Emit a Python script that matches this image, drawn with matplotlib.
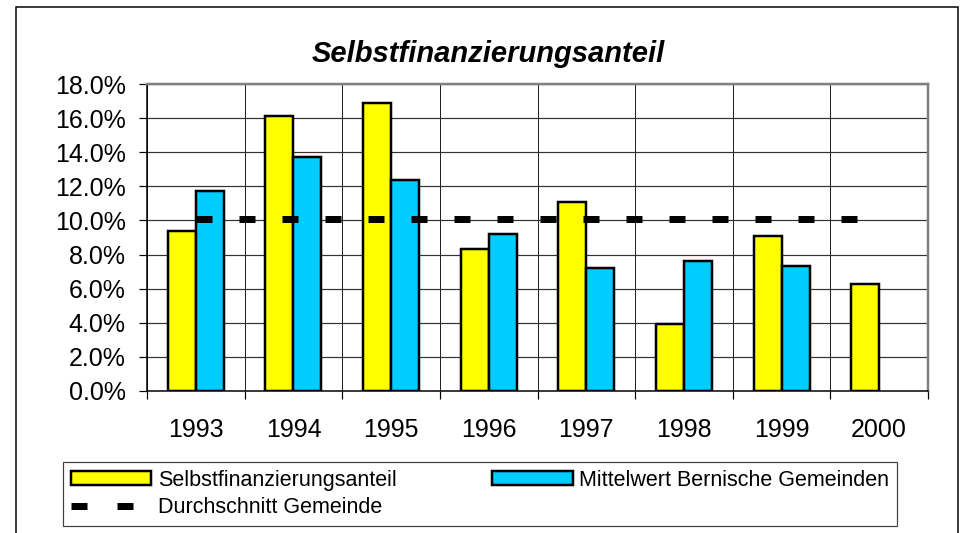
import numpy as np
import matplotlib
matplotlib.use("Agg")
import matplotlib.pyplot as plt
from matplotlib.patches import Rectangle, Patch
from matplotlib.lines import Line2D
from matplotlib.ticker import FuncFormatter, MultipleLocator

# data (percent)
years = ["1993", "1994", "1995", "1996", "1997", "1998", "1999", "2000"]
selbst = [9.4, 16.1, 16.9, 8.3, 11.1, 3.9, 9.1, 6.3]
mittelwert = [11.7, 13.7, 12.4, 9.2, 7.2, 7.6, 7.3, np.nan]
durchschnitt = [10.1, 10.1, 10.1, 10.1, 10.1, 10.1, 10.1, 10.1]

W, H = 962, 533
DPI = 100
px = 72.0 / DPI  # points per pixel

plt.rcParams['font.family'] = ['Liberation Sans', 'DejaVu Sans']
plt.rcParams['lines.scale_dashes'] = False

fig = plt.figure(figsize=(W / DPI, H / DPI), dpi=DPI)
fig.patch.set_facecolor("white")

# outer chart frame (cut off at the bottom like the reference)
frame = Rectangle((16 / W, -0.05), (958 - 16) / W, (H - 7) / H + 0.05,
                  transform=fig.transFigure, fill=False,
                  edgecolor="black", linewidth=1.5 * px)
fig.patches.append(frame)

ax = fig.add_axes([147 / W, 1 - 391 / H, 781 / W, 307 / H])

x = np.arange(len(years))
bw = 0.287
ax.bar(x - bw / 2, selbst, width=bw, color="#FFFF00", edgecolor="black",
       linewidth=2.5 * px, zorder=3, label="Selbstfinanzierungsanteil")
ax.bar(x + bw / 2, mittelwert, width=bw, color="#00CCFF", edgecolor="black",
       linewidth=2.5 * px, zorder=3, label="Mittelwert Bernische Gemeinden")
ax.plot(x, durchschnitt, color="black", linewidth=7 * px,
        dashes=(16 * px, 27 * px), dash_capstyle="butt", zorder=4,
        label="Durchschnitt Gemeinde")

ax.set_xlim(-0.5, len(years) - 0.5)
ax.set_ylim(0, 18)
ax.yaxis.set_major_locator(MultipleLocator(2))
ax.yaxis.set_major_formatter(FuncFormatter(lambda v, p: f"{v:.1f}%"))

ax.set_xticks(x)
ax.set_xticklabels(years)
ax.set_xticks(np.arange(-0.5, len(years)), minor=True)

ax.tick_params(axis="x", which="major", length=0, pad=19.5, labelsize=18)
ax.tick_params(axis="x", which="minor", length=8 * px, width=1.2 * px,
               direction="out", color="black")
ax.tick_params(axis="y", which="major", length=8 * px, width=1.2 * px,
               direction="out", pad=9.5, labelsize=18, color="black")

ax.grid(True, axis="y", which="major", color="#333333", linewidth=1.2 * px, zorder=0)
ax.grid(True, axis="x", which="minor", color="#222222", linewidth=1.0 * px, zorder=0)
ax.set_axisbelow(True)

for side in ["top", "right"]:
    ax.spines[side].set_color("#808080")
    ax.spines[side].set_linewidth(2.5 * px)
for side in ["left", "bottom"]:
    ax.spines[side].set_color("black")
    ax.spines[side].set_linewidth(1.5 * px)

fig.text(488 / W, 1 - 62 / H, "Selbstfinanzierungsanteil", ha="center",
         va="baseline", fontsize=21, fontweight="bold", fontstyle="italic")

# legend: first row two bars, second row the dashed line
h_s = Patch(facecolor="#FFFF00", edgecolor="black", linewidth=2.5 * px)
h_m = Patch(facecolor="#00CCFF", edgecolor="black", linewidth=2.5 * px)
h_d = Line2D([], [], color="black", linewidth=7 * px, dashes=(16 * px, 30 * px))
leg = fig.legend([h_s, h_d, h_m],
                 ["Selbstfinanzierungsanteil", "Durchschnitt Gemeinde",
                  "Mittelwert Bernische Gemeinden"],
                 ncol=2, loc="upper left", bbox_to_anchor=(63 / W, 1 - 462 / H),
                 borderaxespad=0, fontsize=15.5, handlelength=3.75,
                 handleheight=0.65, handletextpad=0.3, columnspacing=4.45,
                 labelspacing=0.3, borderpad=0.35, fancybox=False,
                 framealpha=1, edgecolor="#404040")
leg.get_frame().set_linewidth(1.2 * px)

fig.savefig("out.png", dpi=DPI)
